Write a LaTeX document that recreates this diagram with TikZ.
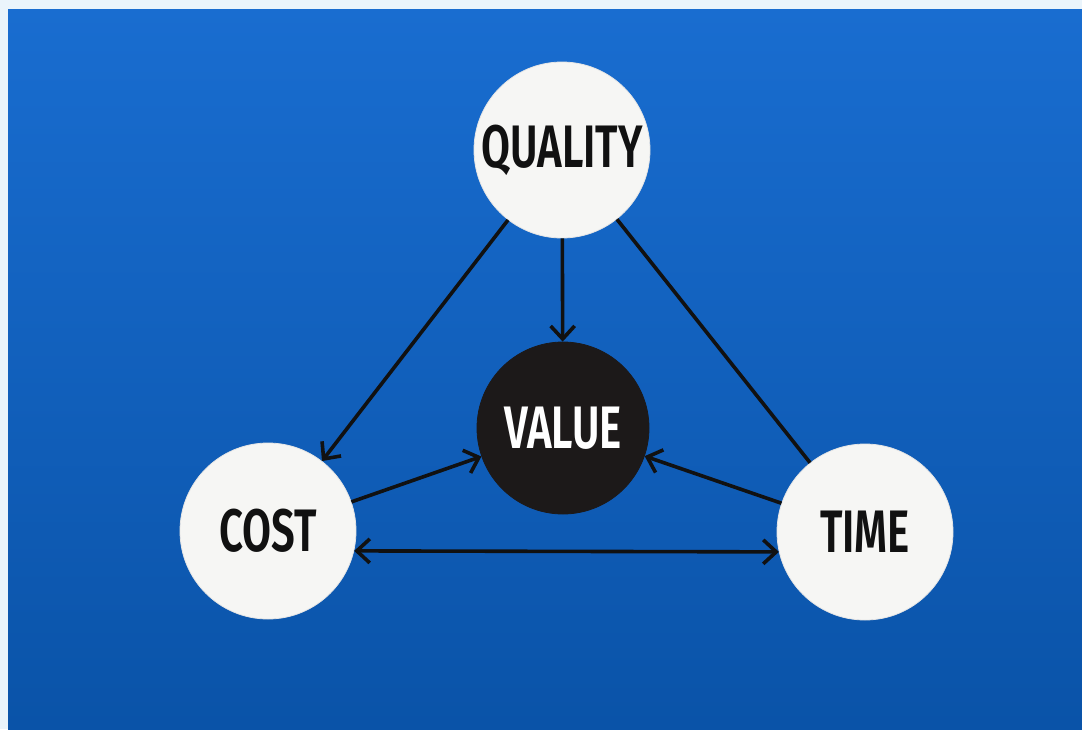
\documentclass[tikz,border=0pt]{standalone}
\usepackage{fontspec}
\usepackage{tikz}
\usetikzlibrary{
    arrows.meta,
    positioning,
    calc
}
\newfontfamily\tvMarker[FakeStretch=0.7]{Fira Sans SemiBold}
\definecolor{tvFrame}{HTML}{EAF4FB}
\definecolor{tvBlueTop}{HTML}{196DD0}
\definecolor{tvBlueBottom}{HTML}{0A53A8}
\definecolor{tvPaper}{HTML}{F6F6F4}
\definecolor{tvInk}{HTML}{111111}
\definecolor{tvDisc}{HTML}{1C1919}
\tikzset{
    tvWhite/.style={
        circle,
        draw=gray!20,
        fill=tvPaper,
        line width=0.8pt,
        minimum size=176pt,
        inner sep=0pt,
        text=tvInk,
        font=\tvMarker\fontsize{60}{60}\selectfont
    },
    tvBlack/.style={
        tvWhite,
        draw=tvDisc,
        fill=tvDisc,
        minimum size=172pt,
        text=white
    },
    tvArrow/.style={-{Straight Barb[length=13pt,width=24pt]},line width=3.6pt,draw=tvInk},
    tvLine/.style={line width=3.6pt,draw=tvInk}
}

\begin{document}
\begin{tikzpicture}[x=1pt,y=-1pt]
        \useasboundingbox (0,0) rectangle (1082,729);
        \fill[tvFrame] (0,0) rectangle (1082,729);
        \shade[top color=tvBlueTop,bottom color=tvBlueBottom] (8,9) rectangle (1082,729);

        \node[tvWhite] (quality) at (562,150) {QUALITY};
        \node[tvBlack] (value) at (563,428) {VALUE};
        \node[tvWhite] (cost) at (268,531) {COST};
        \node[tvWhite] (time) at (865,532) {TIME};

        \draw[tvArrow] (quality) -- (cost);
        \draw[tvArrow] (quality) -- (value);
        \draw[tvLine] (quality) -- (time);
        \draw[tvArrow] (cost) -- (value);
        \draw[tvArrow] (time) -- (value);
        \draw[tvArrow,{Straight Barb[length=13pt,width=24pt]}-{Straight Barb[length=13pt,width=24pt]}]
            (cost.-13) -- (time.193);
    \end{tikzpicture}
\end{document}
